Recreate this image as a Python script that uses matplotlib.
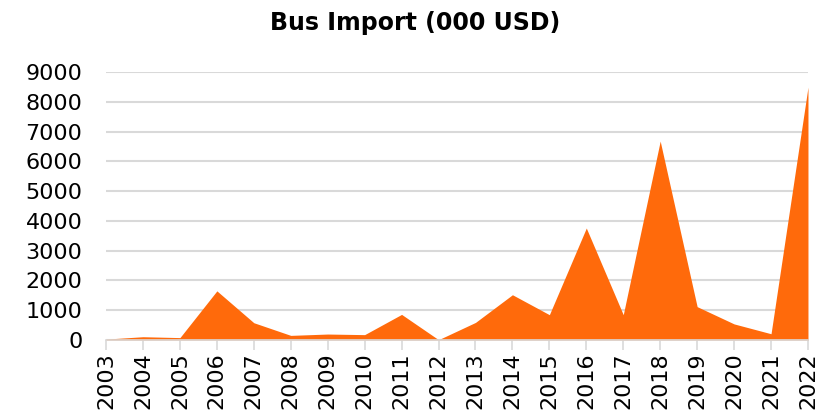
import matplotlib
matplotlib.use("Agg")
import matplotlib.pyplot as plt

years = list(range(2003, 2023))
values = [30, 110, 80, 1650, 580, 155, 200, 180, 860, 10,
          590, 1520, 850, 3760, 850, 6680, 1120, 540, 210, 8490]
yticks = list(range(0, 9001, 1000))

fig = plt.figure(figsize=(8.31, 4.16), dpi=100)
ax = fig.add_axes([0.1276, 0.1827, 0.8447, 0.6442])
ax.fill_between(years, values, 0, color="#FF6A0B", linewidth=0, zorder=3)
ax.set_xlim(2003, 2022)
ax.set_ylim(0, 9000)
ax.set_yticks(yticks)
ax.set_xticks(years)
ax.set_xticklabels([str(y) for y in years], rotation=90, fontsize=16)
ax.tick_params(axis="y", length=0, labelsize=16, pad=17)
ax.tick_params(axis="x", length=7, color="#D9D9D9", width=1.2, pad=2)
ax.grid(axis="y", color="#D9D9D9", linewidth=1.5, zorder=0)
for s in ["left", "right", "top"]:
    ax.spines[s].set_visible(False)
ax.spines["bottom"].set_color("#D9D9D9")
ax.spines["bottom"].set_linewidth(1.2)
ax.spines["bottom"].set_zorder(4)
fig.text(0.5, 0.945, "Bus Import (000 USD)", ha="center", va="center",
         fontsize=17, fontweight="bold")
fig.savefig("out.png", dpi=100)
